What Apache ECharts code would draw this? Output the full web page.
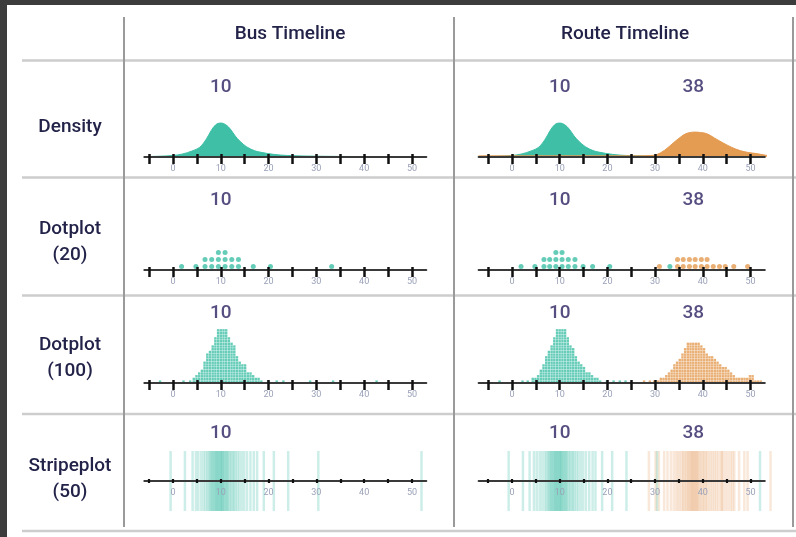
<!DOCTYPE html>
<html><head><meta charset="utf-8">
<script src="https://cdn.jsdelivr.net/npm/echarts@6/dist/echarts.min.js"></script>
<style>html,body{margin:0;padding:0;background:#3c3c3c;}#c{width:796px;height:537px;}</style>
</head><body><div id="c"></div>
<script>
// ---------------- data ----------------
const columnTitles = ['Bus Timeline', 'Route Timeline'];
const rowTitles = ['Density', 'Dotplot\n(20)', 'Dotplot\n(100)', 'Stripeplot\n(50)'];
const tickValues = [-5, 0, 5, 10, 15, 20, 25, 30, 35, 40, 45, 50];
const tickLabels = [0, 10, 20, 30, 40, 50];
const busMedians = [10];
const routeMedians = [10, 38];

// density curves
const busDensityX = [-6, -3, 0, 2, 4, 5.6, 7, 8, 9, 10, 11, 12, 13, 14, 15.4, 17, 18.2, 21, 24, 28, 35, 45, 53];
const busDensityY = [0.001, 0.002, 0.004, 0.008, 0.016, 0.026, 0.048, 0.07, 0.086, 0.09, 0.086, 0.074, 0.056, 0.042, 0.027, 0.017, 0.013, 0.007, 0.004, 0.0025, 0.0015, 0.001, 0.0008];
const routeTealDensityX = [-7, -3, 0, 2, 4, 5.6, 7, 8, 9, 10, 11, 12, 13, 14, 15.4, 17, 18.2, 21, 24, 28, 35, 45, 53];
const routeTealDensityY = [0.001, 0.002, 0.004, 0.008, 0.016, 0.026, 0.048, 0.07, 0.086, 0.09, 0.086, 0.074, 0.056, 0.042, 0.027, 0.017, 0.013, 0.007, 0.004, 0.0025, 0.0015, 0.001, 0.0008];
const routeOrangeDensityX = [-7, 0, 10, 20, 26, 29, 30.3, 32, 33.8, 35.9, 37, 38.3, 39.5, 40.8, 42.5, 44.3, 46, 47.8, 49.5, 51.3, 53, 55];
const routeOrangeDensityY = [0.003, 0.003, 0.003, 0.003, 0.003, 0.004, 0.006, 0.018, 0.037, 0.058, 0.064, 0.066, 0.065, 0.062, 0.05, 0.037, 0.026, 0.017, 0.012, 0.009, 0.005, 0.002];

// dotplot (20)
const bus20Bins = [1.8, 4.8, 6.7, 8.1, 9.5, 10.9, 12.3, 13.7, 16.8, 20.4, 33.2];
const bus20Counts = [1, 1, 2, 2, 3, 3, 2, 2, 1, 1, 1];
const routeTeal20Bins = [1.9, 4.8, 6.7, 7.9, 9.2, 10.5, 11.8, 13.2, 14.9, 16.9, 20.5, 33.1];
const routeTeal20Counts = [1, 1, 2, 2, 3, 3, 2, 2, 1, 1, 1, 1];
const routeOrange20Bins = [30.9, 34.7, 35.9, 37.2, 38.4, 39.7, 40.9, 42.2, 43.5, 44.7, 46.5, 49.4];
const routeOrange20Counts = [1, 2, 2, 2, 2, 2, 2, 1, 1, 1, 1, 1];

// dotplot (100)
const bus100Bins = [-2.7, 2.2, 3.6, 4.35, 4.92, 5.48, 6.05, 6.61, 7.18, 7.74, 8.31, 8.87, 9.44, 10.0, 10.57, 11.13, 11.70, 12.26, 12.83, 13.39, 13.96, 14.52, 15.09, 15.65, 16.22, 16.78, 17.35, 17.91, 18.48, 19.9, 21.7, 23.1, 28.7, 33.5, 42.6];
const bus100Counts = [1, 1, 1, 2, 3, 4, 5, 8, 11, 12, 14, 17, 20, 20, 20, 20, 17, 15, 14, 10, 8, 7, 7, 4, 4, 3, 2, 2, 1, 1, 1, 1, 1, 1, 1];
const routeTeal100Bins = [-2.6, 2.2, 3.3, 4.35, 4.92, 5.48, 6.05, 6.61, 7.18, 7.74, 8.31, 8.87, 9.44, 10.0, 10.57, 11.13, 11.70, 12.26, 12.83, 13.39, 13.96, 14.52, 15.09, 15.65, 16.22, 16.78, 17.35, 17.91, 18.48, 19.9, 21.3, 22.6, 23.8];
const routeTeal100Counts = [1, 1, 1, 2, 2, 3, 5, 7, 10, 12, 14, 17, 20, 20, 20, 20, 17, 14, 13, 10, 8, 7, 6, 4, 4, 3, 2, 2, 1, 1, 1, 1, 1];
const routeOrange100Bins = [27.7, 28.9, 29.8, 30.64, 31.21, 31.77, 32.34, 32.91, 33.47, 34.04, 34.60, 35.17, 35.74, 36.30, 36.87, 37.43, 38.00, 38.57, 39.13, 39.70, 40.26, 40.83, 41.40, 41.96, 42.53, 43.09, 43.66, 44.23, 44.79, 45.36, 45.92, 46.49, 47.06, 47.62, 48.19, 48.75, 49.32, 49.89, 50.45, 51.02, 51.58, 52.15];
const routeOrange100Counts = [1, 1, 1, 1, 2, 2, 3, 4, 5, 7, 8, 9, 11, 13, 15, 15, 15, 15, 15, 14, 13, 11, 10, 10, 9, 8, 7, 6, 6, 5, 4, 3, 2, 2, 2, 2, 2, 3, 3, 1, 1, 1];

// stripeplot (50)
const busStripes = [-0.5, 2.5, 4.1, 4.8, 5.3, 5.9, 6.4, 6.8, 7.2, 7.5, 7.8, 8.0, 8.2, 8.4, 8.6, 8.8, 9.0, 9.1, 9.3, 9.5, 9.6, 9.8, 10.0, 10.1, 10.3, 10.4, 10.6, 10.8, 11.0, 11.2, 11.4, 11.6, 11.9, 12.2, 12.5, 12.8, 13.1, 13.5, 13.9, 14.4, 14.9, 15.5, 16.2, 16.9, 17.6, 19.0, 21.1, 24.1, 30.4, 52.0];
const routeTealStripes = [-0.7, 2.3, 3.7, 4.6, 5.2, 5.8, 6.3, 6.8, 7.2, 7.5, 7.8, 8.0, 8.2, 8.4, 8.6, 8.8, 9.0, 9.1, 9.3, 9.5, 9.6, 9.8, 10.0, 10.1, 10.3, 10.4, 10.6, 10.8, 11.0, 11.2, 11.4, 11.6, 11.9, 12.2, 12.5, 12.8, 13.1, 13.5, 13.9, 14.4, 14.9, 15.5, 16.2, 16.9, 17.5, 18.9, 21.0, 24.0, 30.4, 52.0];
const routeOrangeStripes = [28.7, 30.1, 30.8, 31.9, 32.6, 33.3, 33.9, 34.4, 34.8, 35.2, 35.6, 35.9, 36.2, 36.5, 36.8, 37.0, 37.3, 37.5, 37.7, 37.9, 38.1, 38.3, 38.5, 38.7, 38.9, 39.1, 39.4, 39.7, 40.0, 40.3, 40.6, 40.9, 41.3, 41.7, 42.1, 42.5, 42.9, 43.3, 43.8, 44.0, 44.3, 44.8, 45.3, 45.8, 46.2, 46.6, 47.6, 48.7, 49.4, 54.2];

// ---------------- styling / layout ----------------
const TEAL = '#3ebfa6', ORANGE = '#e49b52';
const TEXT = '#23234a', MEDIAN = '#2b2260', TICKLABEL = '#9aa1b8';
const FONT = 'Roboto';
const cols = [
  {left: 144.3, width: 282.0, min: -6, max: 53},
  {left: 478.6, width: 286.2, min: -7, max: 53}
];
const rows = [
  {top: 77, bottom: 157, yMin: 0, yMax: 0.212, labelPx: 87, tickOut: 7, tickIn: 3},
  {top: 190, bottom: 270, yMin: 0, yMax: 80 / 7, labelPx: 200, tickOut: 7, tickIn: 3},
  {top: 303, bottom: 383, yMin: 0, yMax: 80 / 2.7, labelPx: 313, tickOut: 7, tickIn: 3},
  {top: 421, bottom: 481, yMin: 0, yMax: 2, labelPx: 433, tickOut: 2, tickIn: 2}
];

function pairs(xs, ys) { return xs.map((x, i) => [x, ys[i]]); }
function stackDots(bins, counts) {
  const out = [];
  bins.forEach((b, i) => { for (let k = 0; k < counts[i]; k++) out.push([b, k + 0.5]); });
  return out;
}

const grid = [], xAxis = [], yAxis = [], series = [];
rows.forEach((r, ri) => {
  cols.forEach((c, ci) => {
    const g = ri * 2 + ci;
    grid.push({left: c.left, width: c.width, top: r.top, height: r.bottom - r.top, containLabel: false});
    const tickStyle = {color: '#111', width: ri === 3 ? 2.2 : 2.5};
    xAxis.push({
      gridIndex: g, type: 'value', min: c.min, max: c.max, position: 'bottom', z: 5,
      axisLine: {show: true, onZero: false, lineStyle: {color: '#3a3a3a', width: 2}},
      axisTick: {show: true, inside: false, length: r.tickOut, lineStyle: tickStyle, customValues: tickValues},
      axisLabel: {show: true, customValues: tickLabels, fontSize: 9, color: TICKLABEL, margin: 7, fontFamily: FONT},
      splitLine: {show: false}
    });
    xAxis.push({
      gridIndex: g, type: 'value', min: c.min, max: c.max, position: 'bottom', z: 5,
      axisLine: {show: false, onZero: false},
      axisTick: {show: true, inside: true, length: r.tickIn, lineStyle: tickStyle, customValues: tickValues},
      axisLabel: {show: false}, splitLine: {show: false}
    });
    yAxis.push({gridIndex: g, type: 'value', min: r.yMin, max: r.yMax, show: false});
    const medians = ci === 0 ? busMedians : routeMedians;
    const labelY = r.yMin + (r.bottom - r.labelPx) / (r.bottom - r.top) * (r.yMax - r.yMin);
    series.push({
      type: 'scatter', xAxisIndex: 2 * g, yAxisIndex: g, silent: true, z: 10,
      symbolSize: 0, data: medians.map(m => [m, labelY]),
      label: {show: true, position: 'inside', formatter: p => String(p.value[0]),
              fontSize: 19, fontWeight: 500, color: MEDIAN, fontFamily: FONT}
    });
  });
});

function dens(g, data, color, z) {
  series.push({type: 'line', xAxisIndex: 2 * g, yAxisIndex: g, data, smooth: 0.35, symbol: 'none',
    clip: false, z, silent: true, lineStyle: {width: 1, color}, areaStyle: {color, opacity: 1}});
}
function dots(g, data, color, size, symbol) {
  series.push({type: 'scatter', xAxisIndex: 2 * g, yAxisIndex: g, data, symbol, symbolSize: size,
    silent: true, itemStyle: {color}, z: 2});
}
function stripes(g, values, color) {
  series.push({type: 'scatter', xAxisIndex: 2 * g, yAxisIndex: g, data: values.map(v => [v, 0]),
    symbol: 'rect', symbolSize: [2.5, 60], silent: true, itemStyle: {color}, z: 2, clip: false});
}

dens(0, pairs(busDensityX, busDensityY), TEAL, 2);
dens(1, pairs(routeTealDensityX, routeTealDensityY), TEAL, 2);
dens(1, pairs(routeOrangeDensityX, routeOrangeDensityY), ORANGE, 3);

dots(2, stackDots(bus20Bins, bus20Counts), TEAL, 5, 'circle');
dots(3, stackDots(routeTeal20Bins, routeTeal20Counts), TEAL, 5, 'circle');
dots(3, stackDots(routeOrange20Bins, routeOrange20Counts), ORANGE, 5, 'circle');

dots(4, stackDots(bus100Bins, bus100Counts), TEAL, 2.4, 'rect');
dots(5, stackDots(routeTeal100Bins, routeTeal100Counts), TEAL, 2.4, 'rect');
dots(5, stackDots(routeOrange100Bins, routeOrange100Counts), ORANGE, 2.4, 'rect');

stripes(6, busStripes, 'rgba(62,191,166,0.32)');
stripes(7, routeTealStripes, 'rgba(62,191,166,0.32)');
stripes(7, routeOrangeStripes, 'rgba(228,150,85,0.27)');

// table frame and titles
const graphic = [
  {type: 'rect', shape: {x: 7, y: 5, width: 789, height: 532}, style: {fill: '#ffffff'}, z: -10}
];
[60.5, 177.5, 295.5, 414, 531].forEach(y => graphic.push({type: 'line', shape: {x1: 22, y1: y, x2: 796, y2: y},
  style: {stroke: '#cdcdcd', lineWidth: 2.5}}));
[124, 454, 793].forEach(x => graphic.push({type: 'line', shape: {x1: x, y1: 17, x2: x, y2: 527},
  style: {stroke: '#9a9a9a', lineWidth: 2}}));
const headerX = [290, 625];
columnTitles.forEach((t, i) => graphic.push({type: 'text', style: {text: t, x: headerX[i], y: 34,
  textAlign: 'center', textVerticalAlign: 'middle', font: '500 19px ' + FONT, fill: TEXT}}));
const rowTitleY = [127, 242.5, 358.5, 479.5];
rowTitles.forEach((t, i) => graphic.push({type: 'text', style: {text: t, x: 70, y: rowTitleY[i],
  textAlign: 'center', textVerticalAlign: 'middle', font: '500 19px ' + FONT, lineHeight: 26, fill: TEXT}}));

const chart = echarts.init(document.getElementById('c'), null, {renderer: 'canvas'});
chart.setOption({backgroundColor: '#3c3c3c', animation: false, grid, xAxis, yAxis, series, graphic});
</script></body></html>
